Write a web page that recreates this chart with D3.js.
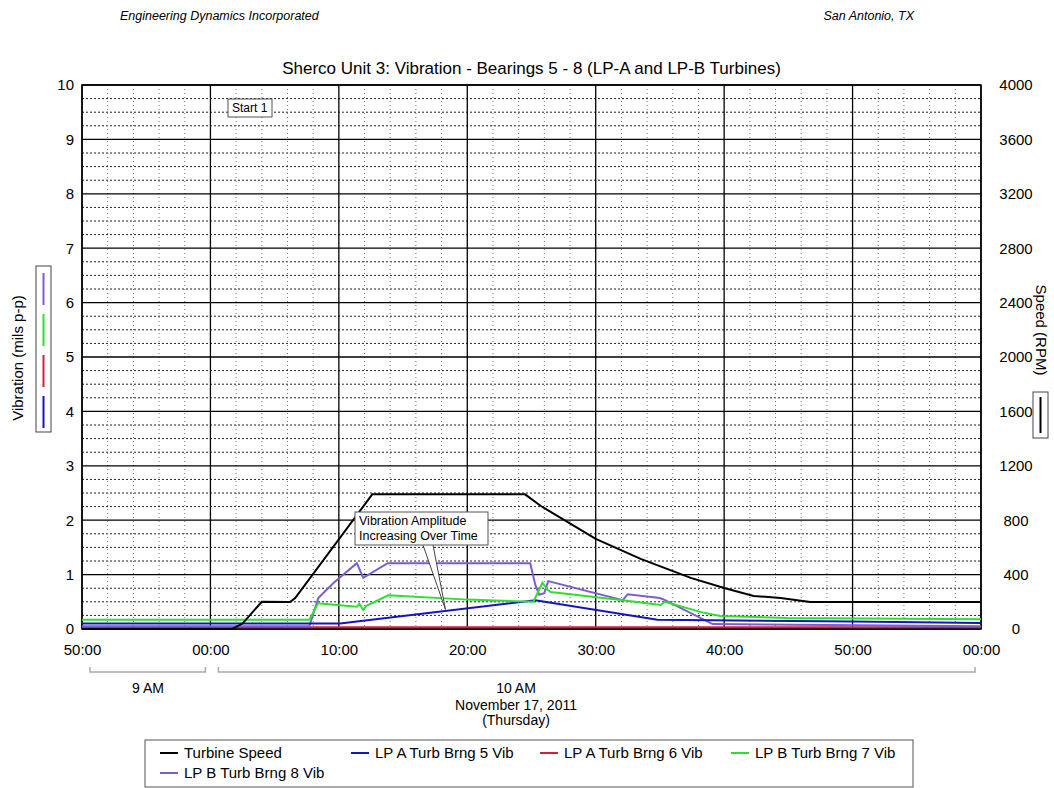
<!DOCTYPE html>
<html>
<head>
<meta charset="utf-8">
<script src="https://cdn.jsdelivr.net/npm/d3@7"></script>
<style>
  body { margin: 0; background: #fff; }
  svg { font-family: Arial, "Liberation Sans", sans-serif; }
</style>
</head>
<body>
<svg id="chart" width="1054" height="788"></svg>
<script>
// clock times on Nov 17, 2011 and readings
const speedTimes = ["09:50:00","10:01:42","10:02:30","10:04:00","10:06:12","10:06:36","10:12:36","10:24:30","10:25:42","10:30:00","10:33:30","10:37:24","10:40:00","10:42:18","10:44:24","10:46:42","11:00:00"];
const speedRpm   = [0, 0, 40, 200, 198, 228, 990, 990, 906, 663, 516, 376, 302, 243, 228, 198, 198];

const brng5Times = ["09:50:00","10:10:06","10:25:18","10:34:48","10:50:00","11:00:00"];
const brng5Vib   = [0.10, 0.10, 0.53, 0.17, 0.14, 0.11];

const brng6Times = ["09:50:00","10:25:00","11:00:00"];
const brng6Vib   = [0.03, 0.03, 0.03];

const brng7Times = ["09:50:00","10:07:42","10:08:24","10:08:33","10:11:24","10:11:36","10:11:54","10:12:06","10:13:51","10:20:00","10:25:09","10:25:51","10:26:15","10:26:30","10:32:06","10:35:03","10:35:24","10:38:12","10:39:42","10:44:54","11:00:00"];
const brng7Vib   = [0.17, 0.17, 0.48, 0.47, 0.41, 0.46, 0.35, 0.42, 0.62, 0.54, 0.50, 0.85, 0.72, 0.68, 0.53, 0.44, 0.50, 0.31, 0.24, 0.20, 0.18];

const brng8Times = ["09:50:00","10:07:42","10:08:24","10:09:36","10:11:24","10:11:54","10:13:48","10:24:54","10:25:18","10:25:36","10:26:00","10:26:18","10:32:06","10:32:30","10:35:00","10:35:24","10:39:06","11:00:00"];
const brng8Vib   = [0.05, 0.05, 0.57, 0.85, 1.21, 0.94, 1.21, 1.21, 0.81, 0.63, 0.66, 0.88, 0.53, 0.64, 0.57, 0.53, 0.09, 0.05];

const seriesNames  = ["Turbine Speed", "LP A Turb Brng 5 Vib", "LP A Turb Brng 6 Vib", "LP B Turb Brng 7 Vib", "LP B Turb Brng 8 Vib"];
const seriesColors = ["#000000", "#1414c0", "#d0203c", "#2ee02e", "#7c5cd0"];

const vibTicks   = [0,1,2,3,4,5,6,7,8,9,10];
const speedTicks = [0,400,800,1200,1600,2000,2400,2800,3200,3600,4000];

const parseTime = d3.timeParse("%Y-%m-%d %H:%M:%S");
const toDate = s => parseTime("2011-11-17 " + s);
const zip = (ts, vs) => ts.map((t, i) => ({t: toDate(t), v: vs[i]}));

const svg = d3.select("#chart");
const pL = 82, pR = 981, pT = 85, pB = 629;

const x = d3.scaleTime()
  .domain([toDate("09:50:00"), toDate("11:00:00")])
  .range([pL, pR]);
const y = d3.scaleLinear().domain([0, 10]).range([pB, pT]);
const yR = d3.scaleLinear().domain([0, 4000]).range([pB, pT]);

// header
svg.append("text").attr("x", 120).attr("y", 20)
  .attr("font-size", 12.5).attr("font-style", "italic")
  .text("Engineering Dynamics Incorporated");
svg.append("text").attr("x", 914).attr("y", 20)
  .attr("font-size", 12.5).attr("font-style", "italic").attr("text-anchor", "end")
  .text("San Antonio, TX");

svg.append("text").attr("x", (pL + pR) / 2).attr("y", 74)
  .attr("font-size", 17).attr("text-anchor", "middle")
  .text("Sherco Unit 3: Vibration - Bearings 5 - 8 (LP-A and LP-B Turbines)");

// grid
const grid = svg.append("g");
const minorY = d3.range(0, 10.01, 0.25).filter(v => v % 1 !== 0);
grid.selectAll(".hminor").data(minorY).join("line")
  .attr("x1", pL).attr("x2", pR)
  .attr("y1", d => y(d)).attr("y2", d => y(d))
  .attr("stroke", "#222").attr("stroke-width", 1).attr("stroke-dasharray", "2,2");

const minorX = x.ticks(d3.timeMinute.every(2)).filter(d => d.getMinutes() % 10 !== 0);
grid.selectAll(".vminor").data(minorX).join("line")
  .attr("x1", d => x(d)).attr("x2", d => x(d))
  .attr("y1", pT).attr("y2", pB)
  .attr("stroke", "#777").attr("stroke-width", 1).attr("stroke-dasharray", "1,3");

grid.selectAll(".hmajor").data(vibTicks).join("line")
  .attr("x1", pL).attr("x2", pR)
  .attr("y1", d => y(d)).attr("y2", d => y(d))
  .attr("stroke", "#000").attr("stroke-width", 1.3);

grid.selectAll(".vmajor").data(x.ticks(d3.timeMinute.every(10))).join("line")
  .attr("x1", d => x(d)).attr("x2", d => x(d))
  .attr("y1", pT).attr("y2", pB)
  .attr("stroke", "#000").attr("stroke-width", 1.3);

svg.append("rect").attr("x", pL).attr("y", pT)
  .attr("width", pR - pL).attr("height", pB - pT)
  .attr("fill", "none").attr("stroke", "#000").attr("stroke-width", 1.5);

// axes
const xAxis = svg.append("g").attr("transform", `translate(0,${pB + 12})`)
  .call(d3.axisBottom(x).ticks(d3.timeMinute.every(10)).tickFormat(d3.timeFormat("%M:%S")).tickSize(0));
const yAxis = svg.append("g").attr("transform", `translate(${pL - 5},0)`)
  .call(d3.axisLeft(y).tickValues(vibTicks).tickSize(0));
const yAxisR = svg.append("g").attr("transform", `translate(${pR + 35},0)`)
  .call(d3.axisRight(yR).tickValues(speedTicks).tickFormat(d3.format("d")).tickSize(0).tickPadding(0));
[xAxis, yAxis, yAxisR].forEach(a => {
  a.select(".domain").remove();
  a.selectAll("text").attr("font-size", 15).attr("font-family", "Arial, 'Liberation Sans', sans-serif").attr("fill", "#000");
});
yAxisR.selectAll("text").attr("text-anchor", "middle");

// hour brackets
const brackets = [
  {a: x(toDate("09:50:00")) + 8, b: x(toDate("10:00:00")) - 5, label: "9 AM", lx: 148},
  {a: x(toDate("10:00:00")) + 8, b: x(toDate("11:00:00")) - 6, label: "10 AM", lx: 516}
];
brackets.forEach(br => {
  svg.append("path")
    .attr("d", `M${br.a},667 V672 H${br.b} V667`)
    .attr("fill", "none").attr("stroke", "#aaa").attr("stroke-width", 1.5);
  svg.append("text").attr("x", br.lx).attr("y", 693)
    .attr("font-size", 14).attr("text-anchor", "middle").text(br.label);
});
svg.append("text").attr("x", 516).attr("y", 710)
  .attr("font-size", 14).attr("text-anchor", "middle").text("November 17, 2011");
svg.append("text").attr("x", 516).attr("y", 725)
  .attr("font-size", 14).attr("text-anchor", "middle").text("(Thursday)");

// axis titles with line keys
svg.append("text").attr("transform", "translate(23,358) rotate(-90)")
  .attr("font-size", 15).attr("text-anchor", "middle").text("Vibration (mils p-p)");
svg.append("rect").attr("x", 36).attr("y", 266).attr("width", 15).attr("height", 166)
  .attr("fill", "none").attr("stroke", "#444");
[seriesColors[4], seriesColors[3], seriesColors[2], seriesColors[1]].forEach((c, i) => {
  svg.append("line").attr("x1", 43.5).attr("x2", 43.5)
    .attr("y1", 273 + i * 41).attr("y2", 305 + i * 41)
    .attr("stroke", c).attr("stroke-width", 2);
});
svg.append("text").attr("transform", "translate(1036,330) rotate(90)")
  .attr("font-size", 15).attr("text-anchor", "middle").text("Speed (RPM)");
svg.append("rect").attr("x", 1033).attr("y", 392).attr("width", 15).attr("height", 46)
  .attr("fill", "none").attr("stroke", "#444");
svg.append("line").attr("x1", 1040.5).attr("x2", 1040.5).attr("y1", 397).attr("y2", 433)
  .attr("stroke", "#000").attr("stroke-width", 2);

// series
const vibLine = d3.line().x(d => x(d.t)).y(d => y(d.v));
const spdLine = d3.line().x(d => x(d.t)).y(d => yR(d.v));
const plot = svg.append("g");
const vibSeries = [
  {data: zip(brng6Times, brng6Vib), color: seriesColors[2]},
  {data: zip(brng8Times, brng8Vib), color: seriesColors[4]},
  {data: zip(brng5Times, brng5Vib), color: seriesColors[1]},
  {data: zip(brng7Times, brng7Vib), color: seriesColors[3]}
];
vibSeries.forEach(s => {
  plot.append("path").datum(s.data).attr("d", vibLine)
    .attr("fill", "none").attr("stroke", s.color).attr("stroke-width", 2);
});
plot.append("path").datum(zip(speedTimes, speedRpm)).attr("d", spdLine)
  .attr("fill", "none").attr("stroke", "#000").attr("stroke-width", 2);

// annotations
const start = svg.append("g");
start.append("rect").attr("x", 228).attr("y", 99).attr("width", 44).attr("height", 18)
  .attr("fill", "#fff").attr("stroke", "#555");
start.append("text").attr("x", 232).attr("y", 112).attr("font-size", 12).text("Start 1");

const tipX = x(toDate("10:18:18")), tipY = y(0.36);
const note = svg.append("g");
note.append("path")
  .attr("d", `M423,545 L${tipX},${tipY} L433,545`)
  .attr("fill", "#fff").attr("stroke", "#444");
note.append("rect").attr("x", 355).attr("y", 512).attr("width", 133).attr("height", 33)
  .attr("fill", "#fff").attr("stroke", "#555");
note.append("text").attr("x", 359).attr("y", 525).attr("font-size", 12.5).text("Vibration Amplitude");
note.append("text").attr("x", 359).attr("y", 540).attr("font-size", 12.5).text("Increasing Over Time");

// legend
const legend = svg.append("g");
legend.append("rect").attr("x", 145).attr("y", 740).attr("width", 768).attr("height", 47)
  .attr("fill", "#fff").attr("stroke", "#555");
const legendX = [184, 375, 564, 755, 184];
const legendY = [753, 753, 753, 753, 773];
seriesNames.forEach((name, i) => {
  legend.append("line")
    .attr("x1", legendX[i] - 24).attr("x2", legendX[i] - 6)
    .attr("y1", legendY[i]).attr("y2", legendY[i])
    .attr("stroke", seriesColors[i]).attr("stroke-width", 2);
  legend.append("text").attr("x", legendX[i]).attr("y", legendY[i] + 5)
    .attr("font-size", 15).text(name);
});
</script>
</body>
</html>
